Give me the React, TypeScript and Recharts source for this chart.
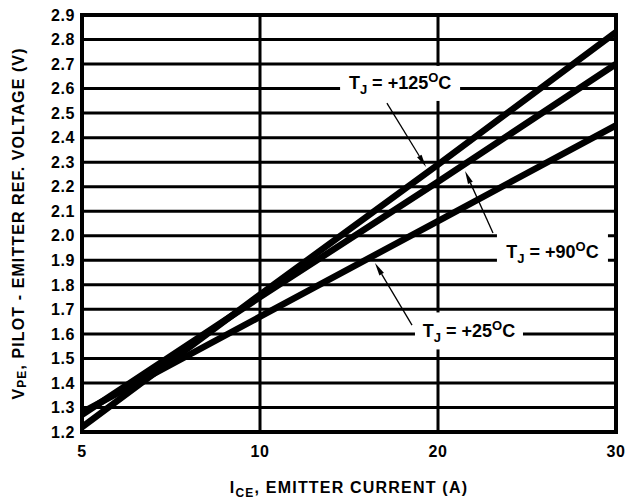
import React from "react";
import { CartesianGrid, Line, LineChart, ReferenceArea, ReferenceDot, ReferenceLine, XAxis, YAxis } from "recharts";

// I_CE tick labels, equally spaced on the reference axis
const currents = ["5", "10", "20", "30"];
const vpe125 = [1.22, 1.76, 2.29, 2.83];
const vpe90 = [1.27, 1.75, 2.22, 2.7];
const vpe25 = [1.28, 1.67, 2.06, 2.45];
const yTicks = [1.2, 1.3, 1.4, 1.5, 1.6, 1.7, 1.8, 1.9, 2.0, 2.1, 2.2, 2.3, 2.4, 2.5, 2.6, 2.7, 2.8, 2.9];

const data = currents.map((c, i) => ({ pos: i, current: c, t125: vpe125[i], t90: vpe90[i], t25: vpe25[i] }));

const FONT = "'Liberation Sans', Arial, Helvetica, sans-serif";

// annotation tags (label, box center in axis units, box size)
const tags = [
  { temp: "+125", x: 1.787, y: 2.621, w: 120, h: 35 },
  { temp: "+90", x: 2.643, y: 1.934, w: 111, h: 36 },
  { temp: "+25", x: 2.174, y: 1.612, w: 108, h: 37 },
];
const arrows = [
  { from: { x: 1.713, y: 2.541 }, to: { x: 1.933, y: 2.28 } },
  { from: { x: 2.309, y: 2.011 }, to: { x: 2.152, y: 2.264 } },
  { from: { x: 1.854, y: 1.636 }, to: { x: 1.646, y: 1.889 } },
];

function Tag({ cx, cy, w, h, temp }: any) {
  return (
    <g>
      <rect x={cx - w / 2} y={cy - h / 2} width={w} height={h} fill="#fff" />
      <text x={cx} y={cy + 6} textAnchor="middle" fontFamily={FONT} fontWeight="bold" fontSize={18} fill="#000">
        T<tspan fontSize={13} dy={5}>J</tspan>
        <tspan dy={-5}> = {temp}</tspan>
        <tspan fontSize={13} dy={-7}>O</tspan>
        <tspan dy={7}>C</tspan>
      </text>
    </g>
  );
}

function Arrow({ x1, y1, x2, y2 }: any) {
  const a = Math.atan2(y2 - y1, x2 - x1);
  const len = 13;
  const half = 2.6;
  const bx = x2 - len * Math.cos(a);
  const by = y2 - len * Math.sin(a);
  const px = -Math.sin(a) * half;
  const py = Math.cos(a) * half;
  return (
    <g>
      <line x1={x1} y1={y1} x2={bx} y2={by} stroke="#000" strokeWidth={1.3} />
      <polygon points={`${x2},${y2} ${bx + px},${by + py} ${bx - px},${by - py}`} fill="#000" />
    </g>
  );
}

function YTitle({ viewBox }: any) {
  const x = viewBox.x + 18;
  const y = viewBox.y + viewBox.height / 2;
  return (
    <text x={x} y={y} transform={`rotate(-90, ${x}, ${y})`} textAnchor="middle" dominantBaseline="central"
      fontFamily={FONT} fontWeight="bold" fontSize={16} letterSpacing={1.1} fill="#000">
      V<tspan fontSize={12} dy={4}>PE</tspan>
      <tspan dy={-4}>, PILOT - EMITTER REF. VOLTAGE (V)</tspan>
    </text>
  );
}

function XTitle({ viewBox }: any) {
  const x = viewBox.x + viewBox.width / 2;
  const y = viewBox.y + 61;
  return (
    <text x={x} y={y} textAnchor="middle" fontFamily={FONT} fontWeight="bold" fontSize={16} letterSpacing={1.2} fill="#000">
      I<tspan fontSize={12} dy={4}>CE</tspan>
      <tspan dy={-4}>, EMITTER CURRENT (A)</tspan>
    </text>
  );
}

const tickStyle = { fontFamily: FONT, fontWeight: "bold", fontSize: 16, fill: "#000", letterSpacing: 0.6 };

export default function App() {
  return (
    <div style={{ position: "absolute", left: 0, top: 0, background: "#fff" }}>
      <LineChart width={626} height={500} data={data} margin={{ top: 15, right: 10, bottom: 0, left: 0 }}>
        <CartesianGrid stroke="#000" strokeWidth={3} />
        <XAxis
          type="number"
          dataKey="pos"
          domain={[0, 3]}
          ticks={[0, 1, 2, 3]}
          tickFormatter={(v: number) => currents[v]}
          height={68}
          tickSize={0}
          tickMargin={14}
          axisLine={false}
          tick={tickStyle}
          label={{ content: XTitle }}
        />
        <YAxis
          type="number"
          domain={[1.2, 2.9]}
          ticks={yTicks}
          tickFormatter={(v: number) => v.toFixed(1)}
          width={82}
          tickSize={0}
          tickMargin={7}
          axisLine={false}
          tick={tickStyle}
          interval={0}
          label={{ content: YTitle }}
        />
        <ReferenceArea x1={0} x2={3} y1={1.2} y2={2.9} fill="none" stroke="#000" strokeWidth={4} />
        {tags.map((t) => (
          <ReferenceDot key={t.temp} x={t.x} y={t.y} shape={(p: any) => <Tag cx={p.cx} cy={p.cy} w={t.w} h={t.h} temp={t.temp} />} />
        ))}
        {arrows.map((a, i) => (
          <ReferenceLine key={i} segment={[a.from, a.to]} shape={(p: any) => <Arrow {...p} />} />
        ))}
        <Line type="linear" dataKey="t125" stroke="#000" strokeWidth={6.5} dot={false} isAnimationActive={false} />
        <Line type="linear" dataKey="t90" stroke="#000" strokeWidth={6.5} dot={false} isAnimationActive={false} />
        <Line type="linear" dataKey="t25" stroke="#000" strokeWidth={6.5} dot={false} isAnimationActive={false} />
      </LineChart>
    </div>
  );
}
